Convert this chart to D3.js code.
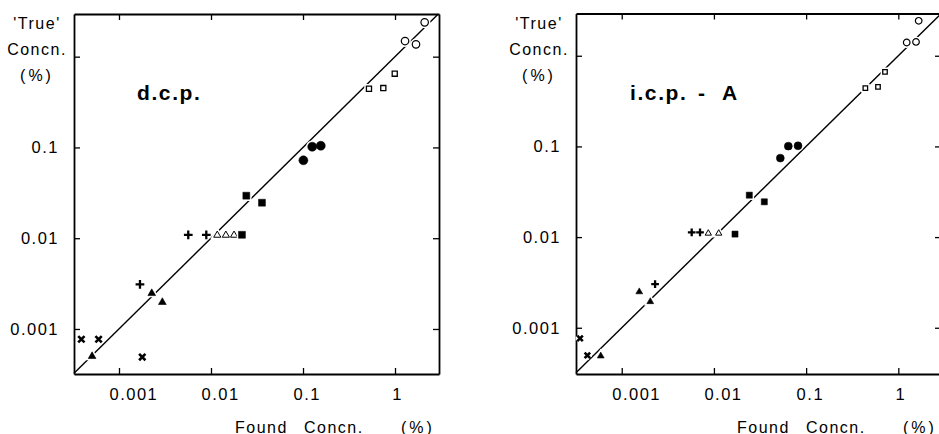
<!DOCTYPE html>
<html>
<head>
<meta charset="utf-8">
<script src="https://cdn.jsdelivr.net/npm/d3@7"></script>
<style>
  body { margin: 0; background: #fff; }
  text { font-family: "Liberation Sans", Arial, sans-serif; fill: #000; }
</style>
</head>
<body>
<div id="chart"></div>
<script>
// tick values / labels (both axes are log, % concentration)
const tickValues = [0.001, 0.01, 0.1, 1]
const xTickLabels = ["0.001", "0.01", "0.1", "1"]
const yTickLabels = ["0.001", "0.01", "0.1", ""]

// [found, true] pairs
// -- d.c.p.
const dcpCrosses   = [[0.00039, 0.00077], [0.00060, 0.00077], [0.00179, 0.00049]]
const dcpTriFilled = [[0.00051, 0.00050], [0.00227, 0.00247], [0.00296, 0.00197]]
const dcpPlus      = [[0.00169, 0.0031], [0.00566, 0.0109], [0.00889, 0.0109]]
const dcpTriOpen   = [[0.0117, 0.0108], [0.0145, 0.0108], [0.0178, 0.0108]]
const dcpSqFilled  = [[0.0217, 0.0109], [0.0242, 0.0294], [0.0358, 0.0246]]
const dcpDots      = [[0.101, 0.0721], [0.126, 0.1018], [0.156, 0.1044]]
const dcpSqOpen    = [[0.521, 0.443], [0.746, 0.451], [0.993, 0.649]]
const dcpCircOpen  = [[1.285, 1.486], [1.69, 1.366], [2.10, 2.39]]

// -- i.c.p. - A
const icpCrosses   = [[0.000353, 0.000764], [0.000424, 0.000496]]
const icpTriFilled = [[0.000592, 0.000488], [0.00155, 0.00249], [0.00204, 0.00194]]
const icpPlus      = [[0.0023, 0.00303], [0.00574, 0.01127], [0.00707, 0.01127]]
const icpTriOpen   = [[0.00869, 0.0110], [0.01127, 0.0110]]
const icpSqFilled  = [[0.01693, 0.01079], [0.0242, 0.0290], [0.0352, 0.0245]]
const icpDots      = [[0.0525, 0.0743], [0.0641, 0.1007], [0.0817, 0.1016]]
const icpSqOpen    = [[0.439, 0.439], [0.602, 0.454], [0.717, 0.664]]
const icpCircOpen  = [[1.233, 1.40], [1.556, 1.42], [1.663, 2.43]]

// stroked symbol types for d3.symbol
const symTimes = {draw(ctx, size) {
  const h = Math.sqrt(size) / 2
  ctx.moveTo(-h, -h); ctx.lineTo(h, h)
  ctx.moveTo(h, -h); ctx.lineTo(-h, h)
}}
const symPlus = {draw(ctx, size) {
  const h = Math.sqrt(size) / 2
  ctx.moveTo(-h, 0); ctx.lineTo(h, 0)
  ctx.moveTo(0, -h); ctx.lineTo(0, h)
}}

const markerStyle = {
  times:     {type: symTimes,            size: 40, fill: "none", sw: 2.6},
  triFilled: {type: d3.symbolTriangle,   size: 26, fill: "#000", sw: 0.6},
  plus:      {type: symPlus,             size: 76, fill: "none", sw: 2.3},
  triOpen:   {type: d3.symbolTriangle,   size: 22, fill: "#fff", sw: 1},
  sqFilled:  {type: d3.symbolSquare,     size: 48, fill: "#000", sw: 0.5},
  dot:       {type: d3.symbolCircle,     size: 64, fill: "#000", sw: 0.5},
  sqOpen:    {type: d3.symbolSquare,     size: 26, fill: "#fff", sw: 1.3},
  circOpen:  {type: d3.symbolCircle,     size: 44, fill: "#fff", sw: 1.2}
}

const panels = [
  {label: ["d.c.p."], labelDx: [0], labelX: 63,
   left: 74, top: 14, width: 365, height: 360, k: 1,
   xDom: [10 ** -3.489, 10 ** 0.478], yDom: [10 ** -3.496, 10 ** 0.470],
   series: [["times", dcpCrosses], ["triFilled", dcpTriFilled], ["plus", dcpPlus],
            ["triOpen", dcpTriOpen], ["sqFilled", dcpSqFilled], ["dot", dcpDots],
            ["sqOpen", dcpSqOpen], ["circOpen", dcpCircOpen]]},
  {label: ["i.c.p.", "-", "A"], labelDx: [0, 68, 92], labelX: 54,
   left: 576, top: 13.5, width: 365, height: 360.5, k: 0.88,
   xDom: [10 ** -3.496, 10 ** 0.463], yDom: [10 ** -3.51, 10 ** 0.466],
   series: [["times", icpCrosses], ["triFilled", icpTriFilled], ["plus", icpPlus],
            ["triOpen", icpTriOpen], ["sqFilled", icpSqFilled], ["dot", icpDots],
            ["sqOpen", icpSqOpen], ["circOpen", icpCircOpen]]}
]

const svg = d3.select("#chart").append("svg")
      .attr("width", 939)
      .attr("height", 434)

panels.forEach(p => {
  const g = svg.append("g").attr("transform", `translate(${p.left},${p.top})`)
  const x = d3.scaleLog().domain(p.xDom).range([0, p.width])
  const y = d3.scaleLog().domain(p.yDom).range([p.height, 0])

  // frame with inward ticks
  const bottom = g.append("g").attr("transform", `translate(0,${p.height})`)
        .call(d3.axisBottom(x).tickValues(tickValues).tickSizeInner(-6).tickSizeOuter(0)
              .tickPadding(14).tickFormat((d, i) => xTickLabels[i]))
  bottom.selectAll("text")
    .attr("text-anchor", d => d < 1 ? "start" : "middle")
    .attr("x", d => d < 1 ? -10 : 2)
  g.append("g")
    .call(d3.axisLeft(y).tickValues(tickValues).tickSizeInner(-6).tickSizeOuter(0)
          .tickPadding(15).tickFormat((d, i) => yTickLabels[i]))
  g.append("g")
    .call(d3.axisTop(x).tickValues(tickValues).tickSizeInner(-6).tickSizeOuter(0).tickFormat(""))
  g.append("g").attr("transform", `translate(${p.width},0)`)
    .call(d3.axisRight(y).tickValues(tickValues).tickSizeInner(-6).tickSizeOuter(0).tickFormat(""))

  g.selectAll(".domain").attr("stroke", "#000").attr("stroke-width", 1.8)
  g.selectAll(".tick line").attr("stroke", "#000").attr("stroke-width", 1.3)
  g.selectAll(".tick text")
    .attr("font-family", "Liberation Sans, Arial, sans-serif")
    .attr("font-size", 16.5)
    .attr("letter-spacing", 1.5)
    .attr("fill", "#000")

  // 1:1 line
  const lo = Math.max(p.xDom[0], p.yDom[0]), hi = Math.min(p.xDom[1], p.yDom[1])
  g.append("path")
    .datum([lo, hi])
    .attr("d", d3.line().x(d => x(d)).y(d => y(d)))
    .attr("fill", "none")
    .attr("stroke", "#000")
    .attr("stroke-width", 1.4)

  // markers: white halo first, then the symbol
  p.series.forEach(([kind, pts]) => {
    const st = markerStyle[kind]
    const sym = d3.symbol().type(st.type).size(st.size * p.k * p.k)
    const grp = g.append("g")
    grp.selectAll(".halo").data(pts).join("path")
      .attr("class", "halo")
      .attr("transform", d => `translate(${x(d[0])},${y(d[1])})`)
      .attr("d", sym)
      .attr("fill", "#fff")
      .attr("stroke", "#fff")
      .attr("stroke-width", st.sw + 3)
    grp.selectAll(".mark").data(pts).join("path")
      .attr("class", "mark")
      .attr("transform", d => `translate(${x(d[0])},${y(d[1])})`)
      .attr("d", sym)
      .attr("fill", st.fill)
      .attr("stroke", "#000")
      .attr("stroke-width", st.sw)
  })

  // panel label
  const lab = g.append("text")
    .attr("x", p.labelX)
    .attr("y", 86)
    .attr("font-size", 21)
    .attr("font-weight", "bold")
    .attr("letter-spacing", 1.6)
  p.label.forEach((s, i) => lab.append("tspan").attr("x", p.labelX + p.labelDx[i]).text(s))

  // y title
  const yt = [["'True'", 15, 1.5], ["Concn.", 41, 1.5], ["(%)", 67, 3]]
  yt.forEach(([s, yy, ls]) => g.append("text")
    .attr("x", -37).attr("y", yy)
    .attr("text-anchor", "middle")
    .attr("font-size", 16)
    .attr("letter-spacing", ls)
    .text(s))

  // x title
  const xt = [["Found", 161, 1.5], ["Concn.", 230, 1.5], ["(%)", 327, 3]]
  xt.forEach(([s, xx, ls]) => g.append("text")
    .attr("x", xx).attr("y", 432.5 - p.top)
    .attr("font-size", 16)
    .attr("letter-spacing", ls)
    .text(s))
})
</script>
</body>
</html>
